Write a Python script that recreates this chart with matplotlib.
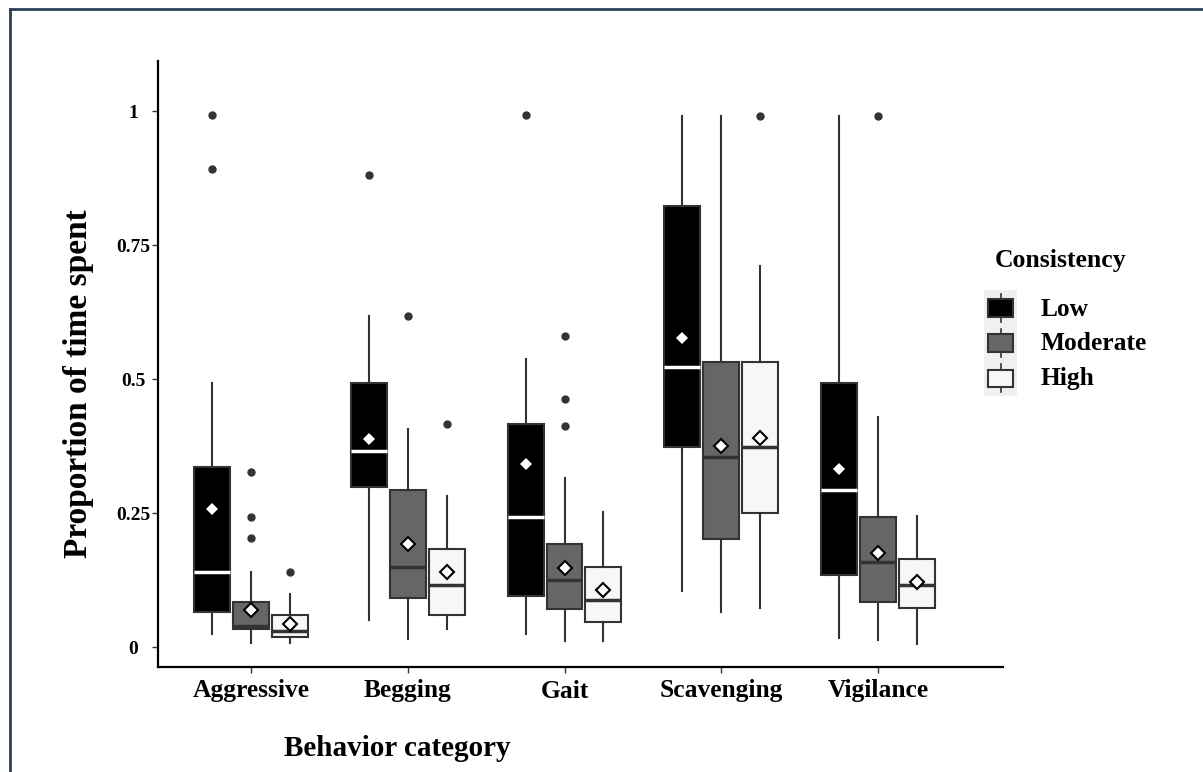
import matplotlib
matplotlib.use("Agg")
import matplotlib.pyplot as plt
from matplotlib.patches import Rectangle
from matplotlib.lines import Line2D

plt.rcParams['font.family'] = ['Liberation Serif', 'DejaVu Serif']
plt.rcParams['font.weight'] = 'bold'

# Data.
categories = ['Aggressive', 'Begging', 'Gait', 'Scavenging', 'Vigilance']
levels = ['Low', 'Moderate', 'High']

low_q1 = [0.065, 0.298, 0.096, 0.373, 0.135]
low_med = [0.140, 0.366, 0.243, 0.523, 0.294]
low_q3 = [0.336, 0.493, 0.417, 0.823, 0.492]
low_lo = [0.024, 0.050, 0.024, 0.104, 0.017]
low_hi = [0.492, 0.617, 0.537, 0.991, 0.991]
low_mean = [0.257, 0.389, 0.341, 0.576, 0.333]
low_out = [[0.993, 0.892], [0.881], [0.992], [], []]

mod_q1 = [0.033, 0.092, 0.072, 0.202, 0.085]
mod_med = [0.040, 0.149, 0.126, 0.355, 0.159]
mod_q3 = [0.085, 0.293, 0.193, 0.532, 0.243]
mod_lo = [0.007, 0.016, 0.012, 0.065, 0.014]
mod_hi = [0.140, 0.407, 0.315, 0.991, 0.430]
mod_mean = [0.069, 0.193, 0.147, 0.375, 0.176]
mod_out = [[0.326, 0.243, 0.203], [0.617], [0.580, 0.463, 0.412], [], [0.991]]

high_q1 = [0.019, 0.060, 0.047, 0.250, 0.073]
high_med = [0.030, 0.116, 0.088, 0.373, 0.116]
high_q3 = [0.060, 0.183, 0.150, 0.532, 0.164]
high_lo = [0.007, 0.033, 0.011, 0.073, 0.006]
high_hi = [0.100, 0.282, 0.252, 0.711, 0.245]
high_mean = [0.043, 0.140, 0.106, 0.391, 0.121]
high_out = [[0.140], [0.416], [], [0.991], []]

yticks = [0, 0.25, 0.5, 0.75, 1]
ytick_labels = ['0', '0.25', '0.5', '0.75', '1']

series = [
    (low_q1, low_med, low_q3, low_lo, low_hi, low_mean, low_out),
    (mod_q1, mod_med, mod_q3, mod_lo, mod_hi, mod_mean, mod_out),
    (high_q1, high_med, high_q3, high_lo, high_hi, high_mean, high_out),
]
fills = ['#000000', '#666666', '#f7f7f7']
median_colors = ['#ffffff', '#333333', '#333333']
edge = '#333333'

W, H = 1203, 772
fig = plt.figure(figsize=(W / 100, H / 100), dpi=100)
ax = fig.add_axes([158 / W, 1 - 667 / H, (1003 - 158) / W, (667 - 60.7) / H])

dodge = 0.248
width = 0.229
for j, (q1, med, q3, lo, hi, mean, out) in enumerate(series):
    stats = []
    for i in range(len(categories)):
        stats.append(dict(q1=q1[i], med=med[i], q3=q3[i], whislo=lo[i],
                          whishi=hi[i], mean=mean[i], fliers=out[i]))
    pos = [i + (j - 1) * dodge for i in range(len(categories))]
    ax.bxp(stats, positions=pos, widths=width, patch_artist=True,
           showmeans=True, showcaps=False, manage_ticks=False,
           boxprops=dict(facecolor=fills[j], edgecolor=edge, linewidth=1.5),
           medianprops=dict(color=median_colors[j], linewidth=2.5),
           whiskerprops=dict(color=edge, linewidth=1.5),
           flierprops=dict(marker='o', markerfacecolor=edge, markeredgecolor=edge,
                           markersize=5),
           meanprops=dict(marker='D', markerfacecolor='white', markeredgecolor='black',
                          markersize=7 if j else 6, markeredgewidth=1.5 if j else 0))

ax.set_xlim(-0.593, 4.797)
ax.set_ylim(-0.037, 1.094)
ax.set_xticks(range(len(categories)))
ax.set_xticklabels(categories, fontsize=18.4, fontweight='bold')
ax.set_yticks(yticks)
ax.set_yticklabels(ytick_labels, fontsize=14, fontweight='bold', ha='center')
ax.tick_params(axis='y', length=4, width=1, color='#333333', pad=14)
ax.tick_params(axis='x', length=4, width=1, color='#333333', pad=5)
for s in ['top', 'right']:
    ax.spines[s].set_visible(False)
for s in ['left', 'bottom']:
    ax.spines[s].set_linewidth(1.6)
    ax.spines[s].set_color('black')

fig.text(79 / W, 1 - 384 / H, 'Proportion of time spent', rotation=90,
         fontsize=24, fontweight='bold', ha='center', va='center')
fig.text(397 / W, 1 - 748 / H, 'Behavior category', fontsize=21,
         fontweight='bold', ha='center', va='center')

# legend
fig.text(995 / W, 1 - 261 / H, 'Consistency', fontsize=18.5, fontweight='bold',
         ha='left', va='center')
lax = fig.add_axes([984 / W, 1 - 396 / H, 33 / W, 106 / H])
lax.set_xlim(0, 1)
lax.set_ylim(0, 3)
lax.axis('off')
lax.add_patch(Rectangle((0, 0), 1, 3, facecolor='#f0f0f0', edgecolor='none'))
for j, name in enumerate(levels):
    yc = 2.5 - j
    lax.plot([0.5, 0.5], [yc - 0.4, yc + 0.4], color=edge, lw=1.2)
    lax.add_patch(Rectangle((0.12, yc - 0.25), 0.76, 0.5, facecolor=fills[j],
                            edgecolor=edge, lw=1.5, zorder=3))
    fig.text(1041 / W, 1 - (309 + 35 * j) / H, name, fontsize=18.4,
             fontweight='bold', ha='left', va='center')

# frame around the figure (left and top edges visible)
fig.add_artist(Line2D([10 / W, 10 / W], [0, 1 - 9 / H], transform=fig.transFigure,
                      color='#2b3f5c', lw=2))
fig.add_artist(Line2D([10 / W, 1], [1 - 9 / H, 1 - 9 / H], transform=fig.transFigure,
                      color='#2b3f5c', lw=2))

fig.savefig('out.png', dpi=100)
